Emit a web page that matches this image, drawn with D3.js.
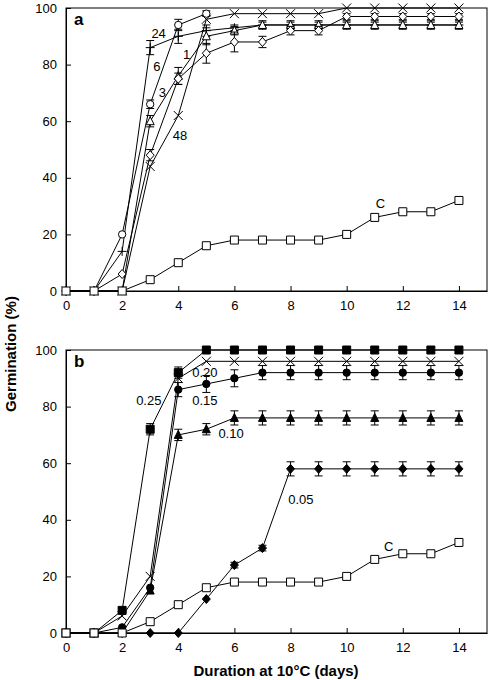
<!DOCTYPE html>
<html><head><meta charset="utf-8">
<script src="https://cdn.jsdelivr.net/npm/d3@7"></script>
<style>body{margin:0;background:#fff}svg{display:block;font-family:Arial,"Liberation Sans",sans-serif}</style>
</head><body><svg id="c" width="488" height="680"></svg>
<script>
const days = [0,1,2,3,4,5,6,7,8,9,10,11,12,13,14];
const xTicks = [0,2,4,6,8,10,12,14];
const yTicks = [0,20,40,60,80,100];

// Panel a (open symbols)
const aC        = [0,0,0,4,10,16,18,18,18,18,20,26,28,28,32];
const aC_err    = [0,0,0,0,0,0,0,0,0,0,0,0.7,0.7,0.7,0.7];
const a1        = [0,0,6,48,75,84,88,88,92,92,97,97,97,97,97];
const a1_err    = [0,0,0,2,2,3.5,3.5,2,1.5,1.5,1,1,1,1,1];
const a3        = [0,0,0,60,76,90,92,94,94,94,94,94,94,94,94];
const a3_err    = [0,0,0,2,3,3,1.5,1.5,1.5,1.5,1.5,1.5,1.5,1.5,1.5];
const a6        = [0,0,20,66,94,98,null,null,null,null,null,null,null,null,null];
const a6_err    = [0,0,0,1.5,2,1,0,0,0,0,0,0,0,0,0];
const a24       = [0,0,14,86,90,92,93,94,94,94,94,94,94,94,94];
const a24_err   = [0,0,0,2.5,2.5,2,1,1,1,1,1,1,1,1,1];
const a48       = [0,0,0,44,62,96,98,98,98,98,100,100,100,100,100];
const a48_err   = [0,0,0,0,0,0,0,0,0,0,0,0,0,0,0];

// Panel b (filled symbols)
const bC        = [0,0,0,4,10,16,18,18,18,18,20,26,28,28,32];
const bC_err    = [0,0,0,0,0,0,0,0,0,0,0,0.7,0.7,0.7,0.7];
const b025      = [0,0,8,72,92,100,100,100,100,100,100,100,100,100,100];
const b025_err  = [0,0,0,2,2,0,0,0,0,0,0,0,0,0,0];
const b020      = [0,0,6,20,90,96,96,96,96,96,96,96,96,96,96];
const b020_err  = [0,0,0,0,0,0,0,0,0,0,0,0,0,0,0];
const b015      = [0,0,2,16,86,88,90,92,92,92,92,92,92,92,92];
const b015_err  = [0,0,0,0,2.5,3,3,2.5,2.5,2.5,2.5,2.5,2.5,2.5,2.5];
const b010      = [0,0,0,15,70,72,76,76,76,76,76,76,76,76,76];
const b010_err  = [0,0,0,0,2,2,2.5,2.5,2.5,2.5,2.5,2.5,2.5,2.5,2.5];
const b005      = [0,0,0,0,0,12,24,30,58,58,58,58,58,58,58];
const b005_err  = [0,0,0,0,0,0,1,1,2.5,2.5,2.5,2.5,2.5,2.5,2.5];

// Curve labels: [text, day, value]
const aLabels = [["24",3.3,91],["6",3.24,79.5],["3",3.43,70],["1",4.3,83.5],["48",4.06,55],["C",11.2,31]];
const bLabels = [["0.20",4.95,92],["0.15",4.95,82],["0.25",2.95,82],["0.10",5.88,70.5],["0.05",8.37,47],["C",11.5,30.5]];

const svg = d3.select("#c");
const x = d3.scaleLinear().domain([0,15]).range([66,487]);

function symPath(type, s){
  const h = s/2;
  switch(type){
    case "square": return `M${-h},${-h}H${h}V${h}H${-h}Z`;
    case "circle": return d3.symbol(d3.symbolCircle, Math.PI*h*h*0.85)();
    case "triangle": return `M0,${-h-0.5}L${h},${h-0.5}L${-h},${h-0.5}Z`;
    case "diamond": return `M0,${-h-0.5}L${h},0L0,${h+0.5}L${-h},0Z`;
    case "plus": return `M${-h},0H${h}M0,${-h}V${h}`;
    case "x": return `M${-h},${-h}L${h},${h}M${h},${-h}L${-h},${h}`;
  }
}

function panel(y0, y1, series, labels, letter){
  const y = d3.scaleLinear().domain([0,100]).range([y1,y0]);
  const g = svg.append("g");
  g.append("rect").attr("x",x(0)).attr("y",y(100)).attr("width",x(15)-x(0)).attr("height",y(0)-y(100))
    .attr("fill","none").attr("stroke","#000").attr("stroke-width",1);
  const xa = g.append("g").attr("transform",`translate(0,${y(0)})`)
    .call(d3.axisBottom(x).tickValues(xTicks).tickSizeInner(-5).tickSizeOuter(0).tickPadding(10));
  const ya = g.append("g").attr("transform",`translate(${x(0)},0)`)
    .call(d3.axisLeft(y).tickValues(yTicks).tickSizeInner(-5).tickSizeOuter(0).tickPadding(9));
  [xa,ya].forEach(a=>{a.select(".domain").attr("stroke","#000");
    a.selectAll("text").attr("font-size",13).attr("fill","#000").attr("font-family","Arial, Liberation Sans, sans-serif");
    a.selectAll("line").attr("stroke","#000");});
  const line = d3.line().defined(d=>d[1]!=null).x(d=>x(d[0])).y(d=>y(d[1]));
  series.forEach(s=>{
    const pts = days.map((d,i)=>[d,s.v[i],s.e[i]]).filter(p=>p[1]!=null);
    g.append("path").attr("d",line(pts)).attr("fill","none").attr("stroke","#000").attr("stroke-width",1);
  });
  series.forEach(s=>{
    const pts = days.map((d,i)=>[d,s.v[i],s.e[i]]).filter(p=>p[1]!=null);
    const eb = g.append("g").attr("stroke","#000").attr("stroke-width",1);
    pts.filter(p=>p[2]>0).forEach(p=>{
      const cx=x(p[0]), yt=y(p[1]+p[2]), yb=y(p[1]-p[2]);
      eb.append("line").attr("x1",cx).attr("x2",cx).attr("y1",yt).attr("y2",yb);
      eb.append("line").attr("x1",cx-4).attr("x2",cx+4).attr("y1",yt).attr("y2",yt);
      eb.append("line").attr("x1",cx-4).attr("x2",cx+4).attr("y1",yb).attr("y2",yb);
    });
    g.append("g").selectAll("path").data(pts).join("path")
      .attr("transform",p=>`translate(${x(p[0])},${y(p[1])})`)
      .attr("d",symPath(s.sym, s.size||8))
      .attr("fill", s.fill).attr("stroke","#000").attr("stroke-width",1);
  });
  g.append("g").selectAll("text").data(labels).join("text")
    .attr("x",d=>x(d[1])).attr("y",d=>y(d[2])).attr("text-anchor","middle").attr("dominant-baseline","central")
    .attr("font-size",13).text(d=>d[0]);
  g.append("text").attr("x",74).attr("y",y0+17).attr("font-size",17).attr("font-weight","bold").text(letter);
}

panel(8, 291, [
  {v:a6, e:a6_err, sym:"circle", fill:"#fff", size:8},
  {v:a24, e:a24_err, sym:"plus", fill:"none", size:9},
  {v:a3, e:a3_err, sym:"triangle", fill:"#fff", size:8},
  {v:a1, e:a1_err, sym:"diamond", fill:"#fff", size:8},
  {v:a48, e:a48_err, sym:"x", fill:"none", size:9},
  {v:aC, e:aC_err, sym:"square", fill:"#fff", size:8}
], aLabels, "a");

panel(350, 633, [
  {v:b005, e:b005_err, sym:"diamond", fill:"#000", size:8},
  {v:b010, e:b010_err, sym:"triangle", fill:"#000", size:8},
  {v:b015, e:b015_err, sym:"circle", fill:"#000", size:8},
  {v:b020, e:b020_err, sym:"x", fill:"none", size:9},
  {v:b025, e:b025_err, sym:"square", fill:"#000", size:8},
  {v:bC, e:bC_err, sym:"square", fill:"#fff", size:8}
], bLabels, "b");

svg.append("text").attr("x",276).attr("y",676).attr("text-anchor","middle").attr("font-size",15)
  .attr("font-weight","bold").text("Duration at 10°C (days)");
svg.append("text").attr("transform","translate(16,354) rotate(-90)").attr("text-anchor","middle")
  .attr("font-size",15).attr("font-weight","bold").text("Germination (%)");
</script></body></html>
